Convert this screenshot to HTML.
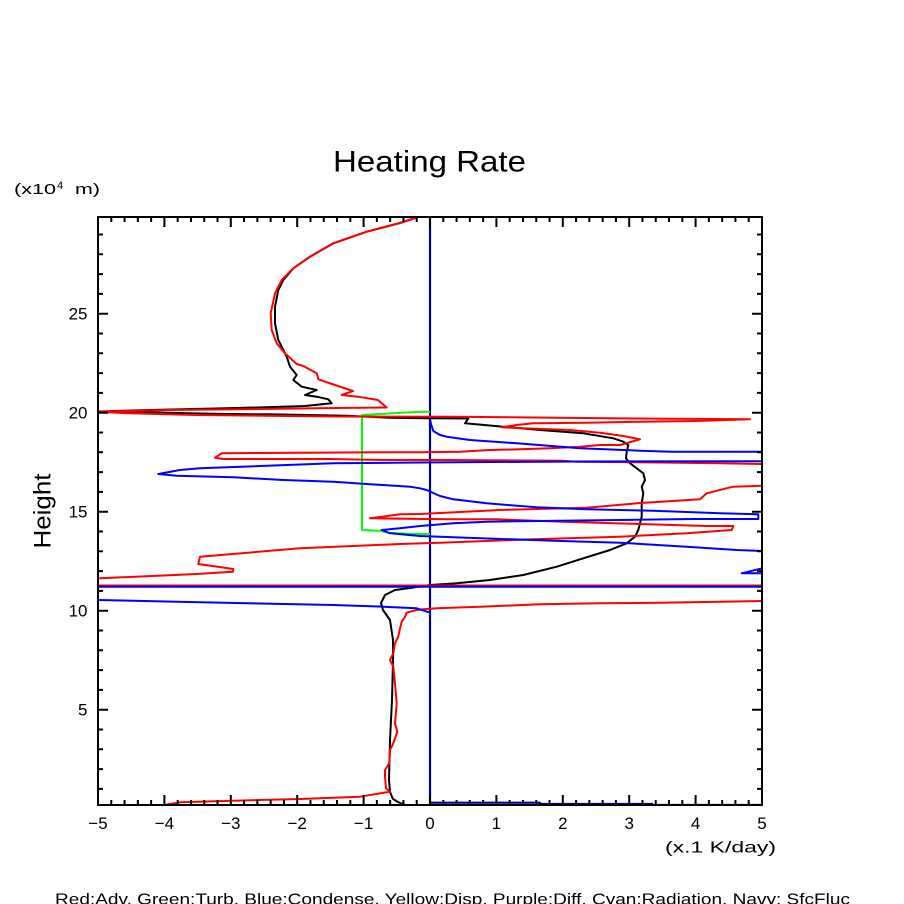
<!DOCTYPE html>
<html><head><meta charset="utf-8"><style>
html,body{margin:0;padding:0;background:#fff;}
svg{display:block;}
text{font-family:"Liberation Sans",sans-serif;fill:#000;}
</style></head><body>
<svg width="904" height="904" viewBox="0 0 904 904" xmlns="http://www.w3.org/2000/svg">
<rect width="904" height="904" fill="#fff"/>
<defs><clipPath id="c"><rect x="98" y="217" width="664" height="588"/></clipPath></defs>

<text x="333" y="171.5" font-size="30" textLength="193" lengthAdjust="spacingAndGlyphs">Heating Rate</text>
<text x="14" y="194" font-size="15" textLength="42" lengthAdjust="spacingAndGlyphs">(x10</text>
<text x="57" y="189" font-size="11">4</text>
<text x="75" y="194" font-size="15" textLength="25" lengthAdjust="spacingAndGlyphs">m)</text>
<text transform="translate(50.5,511) rotate(-90)" text-anchor="middle" font-size="24" textLength="75" lengthAdjust="spacingAndGlyphs">Height</text>
<text x="665" y="852.5" font-size="16" textLength="111" lengthAdjust="spacingAndGlyphs">(x.1 K/day)</text>
<text x="55" y="904.5" font-size="16" textLength="795" lengthAdjust="spacingAndGlyphs">Red:Adv, Green:Turb, Blue:Condense, Yellow:Disp, Purple:Diff, Cyan:Radiation, Navy: SfcFluc</text>

<g font-size="17" text-anchor="middle">
<text x="98" y="829">−5</text>
<text x="164.4" y="829">−4</text>
<text x="230.8" y="829">−3</text>
<text x="297.2" y="829">−2</text>
<text x="363.6" y="829">−1</text>
<text x="430" y="829">0</text>
<text x="496.4" y="829">1</text>
<text x="562.8" y="829">2</text>
<text x="629.2" y="829">3</text>
<text x="695.6" y="829">4</text>
<text x="762" y="829">5</text>
</g>
<g font-size="17" text-anchor="end">
<text x="87.5" y="715.7">5</text>
<text x="87.5" y="616.7">10</text>
<text x="87.5" y="517.7">15</text>
<text x="87.5" y="418.7">20</text>
<text x="87.5" y="319.7">25</text>
</g>

<!-- data -->
<g clip-path="url(#c)" fill="none" stroke-width="2" stroke-linejoin="round">
<polyline stroke="#000090" stroke-width="2.2" points="430,215 430,802.7 540,802.7 540,804 652,804 652,805 765,805"/>
<polyline stroke="#000" points="418,217 400,223 366.7,231.7 333.3,243.3 310,256.7 293.3,268.3 283.3,280 278.3,290 275,306.7 275,323.3 278.3,340 281.7,346.7 286.7,356.7 290,366.7 296.7,375 293.3,380 301.7,386.7 316.7,390 305,395 316.7,396.7 328.3,399.3 331.7,403.3 305,406 265,407.3 226.7,408.3 150,410 98,411.5 148,412.3 188,413.3 228,414 268,414.3 308,415 346.7,415.7 388,417.7 428,418.3 468.3,418.5 465,423.3 503.3,426.7 540,430 583.3,433.3 613.3,438.3 623.3,441.7 628.3,445 626.7,451.7 626,458.3 630,463.3 643.3,473.3 645,480 641.7,486.7 643.3,493.3 641.7,503.3 641.7,516.7 638.3,530 635,536.7 626.7,543.3 610,550 583.3,558.3 556.7,566.7 523.3,575 490,580 456.7,583.3 430,585 410,588 395,590 385,595 381,603 383,610 390,620 393,640 393,660 392,700 390,740 389,780 390,792 393,799 398,802 405,805"/>
<polyline stroke="#00ff00" points="430,411.7 421.7,411.7 396.7,413 380,414 362,415 362,530 380,530.7 388.3,532.7 413.3,534 430,534"/>
<polyline stroke="#ff0000" points="418,217 400,223 366.7,231.7 333.3,243.3 310,256.7 293.3,268.3 281.7,280 275,293.3 270.7,313.3 271.7,330 276.7,343.3 285,353.3 296.7,364 303.3,366 316.7,373.3 318.3,379.3 335,385 353,391 341.7,395 358,396.7 378,400 386.7,407.5 315,408.3 241.7,409.3 170,410 98,411.7 130,413.3 195,415 335,416.5 455,416.7 610,418.3 750,419.3 695,421 641.7,421.7 586.7,422.7 533.3,423.3 516.7,425 501.7,427.3 523.3,428.3 570,430 600,432.7 623.3,436 640,439.3 620,445 600,445 580,446.7 550,448.3 520,449.3 490,450 460,451.7 420,452.3 381.7,452.3 301.7,452.7 221.7,453.3 215,457.7 223.3,459 330,459 383.3,460 450,460 563,460.7 576.7,461.7 680,462.7 720,463.3 762,464 800,470 800,480 762,485.7 733,486.7 706.7,493.3 700,499.3 673,501 636.7,503.3 586.7,507.7 500,510 420,514 400,514.3 370,518.3 450,519.3 496.7,519.3 563.3,521.7 706.7,526 733.3,526 731.7,530 686.7,533.3 620,536.7 533.3,539.3 440,542.7 400,544 300,548.3 200,556.7 198.3,564 233.3,569 233,571.7 196.7,574 100,578.3 40,580 20,585.5 800,585.5 800,600 762,601 720,601.7 660,602.7 600,603.3 540,604.3 480,606.7 436.7,608.3 423.3,609.3 416.7,610 406.7,612.7 405,616.7 401.7,621.7 400,628.3 398.3,636.7 395,643.3 393.3,653.3 390,660 393.3,666.7 395,683.3 396.7,703.3 395,723.3 397.3,731.7 393.3,743.3 390,750 389.3,763.3 385,770 385,776.7 386,788.3 390,791.7 360,796.7 300,799 233,800.7 180,802.3 160,805.7"/>
<polyline stroke="#0000ff" points="430,419 431,424 433.3,431 440,435 446.7,436.7 470,440 516.7,443.3 580,448.3 640,450.7 671.7,451.7 762,451.7 800,452 800,461 762,461.2 576.7,461.5 420,462.5 333,463.3 200,468.3 180,470 158.3,474 176.7,475.7 233.3,477.3 283.3,480 333.3,481.7 366.7,484 410,486.7 420,488.3 426.7,490 433.3,493 440,496 453.3,499.3 486.7,503.3 536.7,507.3 586.7,509.3 653.3,510.7 720,513.3 758.3,514.3 758.3,519 693.3,519 620,520 486.7,521.7 453.3,523.3 420,526 400,528.3 381.7,530 390,533.3 420,536 453.3,537.3 553.3,540.7 620,542.7 686.7,546.7 736.7,550 762,551 800,555 800,566 762,568.3 741.7,573.3 762,573.3 800,576 800,586.8 40,586.8 40,598 97.7,600 200,602.3 333.3,605 383.3,606.7 416.7,608.3 430,612.7"/>
</g>

<!-- frame -->
<rect x="98" y="217" width="664" height="588" fill="none" stroke="#000" stroke-width="2"/>
<!-- x ticks -->
<path stroke="#000" stroke-width="2" fill="none" d="
M111.28 805v-5M124.56 805v-5M137.84 805v-5M151.12 805v-5M164.4 805v-10M177.68 805v-5M190.96 805v-5M204.24 805v-5M217.52 805v-5M230.8 805v-10M244.08 805v-5M257.36 805v-5M270.64 805v-5M283.92 805v-5M297.2 805v-10M310.48 805v-5M323.76 805v-5M337.04 805v-5M350.32 805v-5M363.6 805v-10M376.88 805v-5M390.16 805v-5M403.44 805v-5M416.72 805v-5M430 805v-10M443.28 805v-5M456.56 805v-5M469.84 805v-5M483.12 805v-5M496.4 805v-10M509.68 805v-5M522.96 805v-5M536.24 805v-5M549.52 805v-5M562.8 805v-10M576.08 805v-5M589.36 805v-5M602.64 805v-5M615.92 805v-5M629.2 805v-10M642.48 805v-5M655.76 805v-5M669.04 805v-5M682.32 805v-5M695.6 805v-10M708.88 805v-5M722.16 805v-5M735.44 805v-5M748.72 805v-5
M111.28 217v5M124.56 217v5M137.84 217v5M151.12 217v5M164.4 217v10M177.68 217v5M190.96 217v5M204.24 217v5M217.52 217v5M230.8 217v10M244.08 217v5M257.36 217v5M270.64 217v5M283.92 217v5M297.2 217v10M310.48 217v5M323.76 217v5M337.04 217v5M350.32 217v5M363.6 217v10M376.88 217v5M390.16 217v5M403.44 217v5M416.72 217v5M430 217v10M443.28 217v5M456.56 217v5M469.84 217v5M483.12 217v5M496.4 217v10M509.68 217v5M522.96 217v5M536.24 217v5M549.52 217v5M562.8 217v10M576.08 217v5M589.36 217v5M602.64 217v5M615.92 217v5M629.2 217v10M642.48 217v5M655.76 217v5M669.04 217v5M682.32 217v5M695.6 217v10M708.88 217v5M722.16 217v5M735.44 217v5M748.72 217v5
M98 788.9h5M98 769.1h5M98 749.3h5M98 729.5h5M98 709.7h10M98 689.9h5M98 670.1h5M98 650.3h5M98 630.5h5M98 610.7h10M98 590.9h5M98 571.1h5M98 551.3h5M98 531.5h5M98 511.7h10M98 491.9h5M98 472.1h5M98 452.3h5M98 432.5h5M98 412.7h10M98 392.9h5M98 373.1h5M98 353.3h5M98 333.5h5M98 313.7h10M98 293.9h5M98 274.1h5M98 254.3h5M98 234.5h5
M762 788.9h-5M762 769.1h-5M762 749.3h-5M762 729.5h-5M762 709.7h-10M762 689.9h-5M762 670.1h-5M762 650.3h-5M762 630.5h-5M762 610.7h-10M762 590.9h-5M762 571.1h-5M762 551.3h-5M762 531.5h-5M762 511.7h-10M762 491.9h-5M762 472.1h-5M762 452.3h-5M762 432.5h-5M762 412.7h-10M762 392.9h-5M762 373.1h-5M762 353.3h-5M762 333.5h-5M762 313.7h-10M762 293.9h-5M762 274.1h-5M762 254.3h-5M762 234.5h-5"/>
</svg>
</body></html>
